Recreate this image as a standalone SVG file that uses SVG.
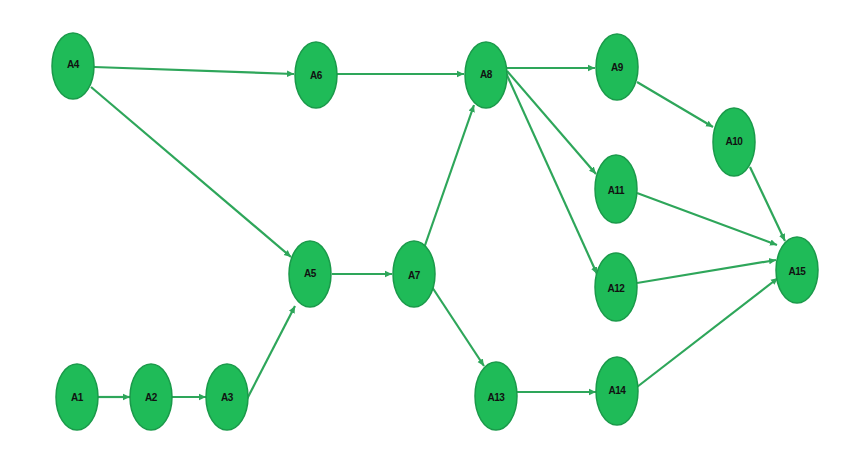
<svg xmlns="http://www.w3.org/2000/svg" width="860" height="472" viewBox="0 0 860 472">
<defs>
<marker id="arr" markerUnits="userSpaceOnUse" markerWidth="8" markerHeight="8" refX="7" refY="4" orient="auto">
<path d="M0,0.8 L7,4 L0,7.2 z" fill="#2ea65a"/>
</marker>
<style>
.n ellipse{fill:#1fbb58;stroke:#1a9a4a;stroke-width:1.5}
.n text{font-family:"Liberation Sans",Arial,sans-serif;font-size:10px;font-weight:bold;fill:#111;text-anchor:middle;dominant-baseline:central;letter-spacing:-0.5px}
#edges line{stroke:#2ea65a;stroke-width:2.2;marker-end:url(#arr)}
</style>
</defs>
<rect width="860" height="472" fill="#ffffff"/>
<g id="edges">
<line x1="94" y1="67" x2="294" y2="74"/>
<line x1="91" y1="87" x2="291" y2="257"/>
<line x1="337" y1="74" x2="464" y2="74"/>
<line x1="507" y1="68" x2="595" y2="68"/>
<line x1="507" y1="71" x2="596" y2="174"/>
<line x1="506" y1="73" x2="597" y2="274"/>
<line x1="423" y1="251" x2="474" y2="105"/>
<line x1="432" y1="287" x2="484" y2="366"/>
<line x1="332" y1="274" x2="392" y2="274"/>
<line x1="247" y1="399" x2="295" y2="306"/>
<line x1="517" y1="392" x2="596" y2="392"/>
<line x1="637" y1="387" x2="778" y2="278"/>
<line x1="637" y1="283" x2="776" y2="260"/>
<line x1="637" y1="193" x2="777" y2="245"/>
<line x1="750" y1="167" x2="785" y2="241"/>
<line x1="637" y1="82" x2="713" y2="127"/>
<line x1="98" y1="397" x2="130" y2="397"/>
<line x1="172" y1="397" x2="206" y2="397"/>
</g>
<g id="A1" class="n"><ellipse cx="77" cy="397" rx="21" ry="33"/><text x="77" y="397">A1</text></g>
<g id="A2" class="n"><ellipse cx="151" cy="397" rx="21" ry="33"/><text x="151" y="397">A2</text></g>
<g id="A3" class="n"><ellipse cx="227" cy="397" rx="21" ry="33"/><text x="227" y="397">A3</text></g>
<g id="A4" class="n"><ellipse cx="73" cy="66" rx="21" ry="33"/><text x="73" y="64">A4</text></g>
<g id="A5" class="n"><ellipse cx="310" cy="274" rx="21" ry="33"/><text x="310" y="273">A5</text></g>
<g id="A6" class="n"><ellipse cx="316" cy="75" rx="21" ry="33"/><text x="316" y="75">A6</text></g>
<g id="A7" class="n"><ellipse cx="414" cy="274" rx="21" ry="33"/><text x="414" y="275">A7</text></g>
<g id="A8" class="n"><ellipse cx="486" cy="75" rx="21" ry="33"/><text x="486" y="74">A8</text></g>
<g id="A9" class="n"><ellipse cx="617" cy="67" rx="21" ry="33"/><text x="617" y="67">A9</text></g>
<g id="A10" class="n"><ellipse cx="734" cy="142" rx="21" ry="34"/><text x="734" y="141">A10</text></g>
<g id="A11" class="n"><ellipse cx="616" cy="189" rx="21" ry="34"/><text x="616" y="190">A11</text></g>
<g id="A12" class="n"><ellipse cx="616" cy="287" rx="21" ry="34"/><text x="616" y="288">A12</text></g>
<g id="A13" class="n"><ellipse cx="496" cy="396" rx="21" ry="34"/><text x="496" y="397">A13</text></g>
<g id="A14" class="n"><ellipse cx="617" cy="391" rx="21" ry="34"/><text x="617" y="390">A14</text></g>
<g id="A15" class="n"><ellipse cx="797" cy="270" rx="21" ry="33"/><text x="797" y="271">A15</text></g>
</svg>
